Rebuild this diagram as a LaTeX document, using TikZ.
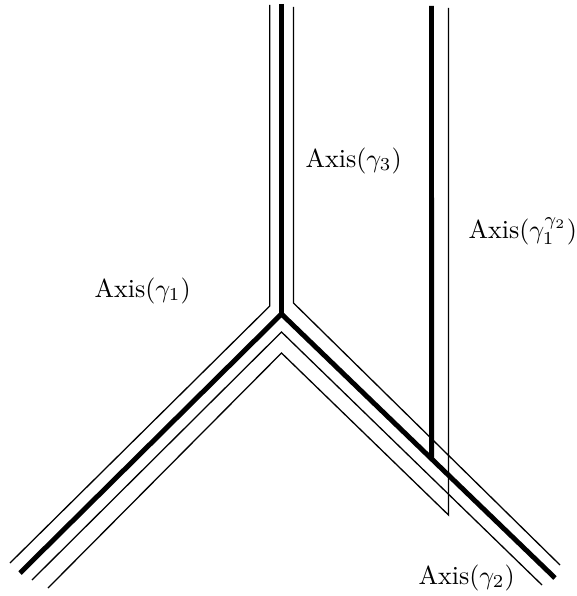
\documentclass[tikz,border=0pt]{standalone}
\begin{document}
\begin{tikzpicture}[x=0.384pt,y=-0.384pt,
  thinaxis/.style={line width=0.5pt},
  thickaxis/.style={line width=1.9pt},
  lbl/.style={anchor=base west,inner sep=0pt,font=\normalsize}]
\useasboundingbox (0,0) rectangle (576,596);
% key points
\coordinate (J) at (281.5,314);
\coordinate (T3) at (281.5,4);
\coordinate (E1) at (20,573);
\coordinate (E2) at (555,578);
\coordinate (V1) at (431.5,6);
\coordinate (V2) at (431.5,600);
% thin upper left
\coordinate (ULt) at (269.8,5);
\coordinate (ULc) at (269.8,306);
\coordinate (ULe) at (10,563);
% thin upper right
\coordinate (URt) at (293.5,7);
\coordinate (URc) at (293.5,303);
\coordinate (URe) at (560,565);
% chevron 1
\coordinate (C1a) at (281.5,332);
\coordinate (C1l) at (32,580);
\coordinate (C1r) at (542,585);
% chevron 2 and thin vertical
\coordinate (C2a) at (281.5,353);
\coordinate (C2l) at (48,588);
\coordinate (C2r) at (448.5,515);
\coordinate (RVt) at (448.5,8);
% thick axes
\draw[thickaxis] (T3) -- (J);
\draw[thickaxis] (E1) -- (J) -- (E2);
\draw[thickaxis] (V1) -- (intersection of V1--V2 and J--E2);
% thin lines
\draw[thinaxis] (ULt) -- (ULc) -- (ULe);
\draw[thinaxis] (URt) -- (URc) -- (URe);
\draw[thinaxis] (C1l) -- (C1a) -- (C1r);
\draw[thinaxis] (C2l) -- (C2a) -- (C2r) -- (RVt);
% labels
\node[lbl] (L3) at (305,167) {Axis$(\gamma_3)$};
\node[lbl] (L1) at (94,297) {Axis$(\gamma_1)$};
\node[lbl] (L12) at (468,238) {Axis$(\gamma_1^{\gamma_2})$};
\node[lbl] (L2) at (418,584) {Axis$(\gamma_2)$};
\end{tikzpicture}
\end{document}
